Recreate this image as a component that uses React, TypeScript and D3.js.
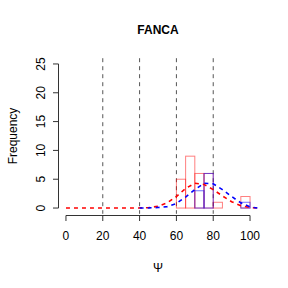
import React from 'react'
import * as d3 from 'd3'

// histogram bins (5-wide), counts
const binStarts = [0, 5, 10, 15, 20, 25, 30, 35, 40, 45, 50, 55, 60, 65, 70, 75, 80, 85, 90, 95]
const redCounts = [0, 0, 0, 0, 0, 0, 0, 0, 0, 0, 0, 0, 5, 9, 6, 6, 1, 0, 0, 2]
const blueCounts = [0, 0, 0, 0, 0, 0, 0, 0, 0, 0, 0, 0, 0, 0, 3, 6, 0, 0, 0, 1]

// dashed density curves (scaled to counts)
const redCurveX = [0, 10, 20, 30, 40, 45, 50, 55, 60, 65, 70, 75, 80, 85, 90, 95, 100, 104]
const redCurveY = [0, 0, 0, 0, 0.02, 0.08, 0.3, 0.9, 2.0, 3.4, 4.3, 4.1, 3.2, 2.1, 1.1, 0.4, 0.1, 0]
const blueCurveX = [40, 45, 50, 55, 60, 65, 70, 75, 80, 85, 90, 95, 100, 104]
const blueCurveY = [0, 0.02, 0.08, 0.25, 0.8, 1.9, 3.2, 4.3, 4.2, 3.2, 2.0, 0.9, 0.2, 0]

const vLines = [20, 40, 60, 80]
const xTicks = [0, 20, 40, 60, 80, 100]
const yTicks = [0, 5, 10, 15, 20, 25]

const App = () => {
  const W = 288, H = 288
  const x = d3.scaleLinear().domain([-4, 104]).range([58.6, 257.4])
  const y = d3.scaleLinear().domain([-1, 26]).range([213.8, 58.2])
  const font = 'Liberation Sans, Arial, sans-serif'
  const BW = 5

  const line = d3.line<[number, number]>().x(d => x(d[0])).y(d => y(d[1]))
  const redPts = redCurveX.map((v, i) => [v, redCurveY[i]] as [number, number])
  const bluePts = blueCurveX.map((v, i) => [v, blueCurveY[i]] as [number, number])

  return (
    <svg width={W} height={H} style={{ position: 'absolute', left: 0, top: 0, background: '#fff' }}
      fontFamily={font}>
      <text x={158} y={34} textAnchor="middle" fontWeight="bold" fontSize={12}>FANCA</text>

      {vLines.map(v => (
        <line key={v} x1={x(v)} x2={x(v)} y1={y(26)} y2={y(-1)} stroke="#555" strokeDasharray="4,4" />
      ))}

      {binStarts.map((b, i) => (
        <rect key={'r' + b} x={x(b)} y={y(redCounts[i])} width={x(b + BW) - x(b)}
          height={y(0) - y(redCounts[i])} fill="none" stroke="rgba(255,0,0,0.5)" />
      ))}
      {binStarts.map((b, i) => (
        <rect key={'b' + b} x={x(b)} y={y(blueCounts[i])} width={x(b + BW) - x(b)}
          height={y(0) - y(blueCounts[i])} fill="none" stroke="rgba(0,0,255,0.55)" />
      ))}

      <path d={line(redPts) || ''} fill="none" stroke="red" strokeWidth={1.6} strokeDasharray="4,4" />
      <path d={line(bluePts) || ''} fill="none" stroke="blue" strokeWidth={1.6} strokeDasharray="4,4" />

      {/* x axis */}
      <line x1={x(0)} x2={x(100)} y1={215.5} y2={215.5} stroke="#333" />
      {xTicks.map(t => (
        <g key={t}>
          <line x1={x(t)} x2={x(t)} y1={215.5} y2={221} stroke="#333" />
          <text x={x(t)} y={240} textAnchor="middle" fontSize={12}>{t}</text>
        </g>
      ))}
      <text x={158} y={272} textAnchor="middle" fontSize={12}>Ψ</text>

      {/* y axis */}
      <line x1={58.5} x2={58.5} y1={y(0)} y2={y(25)} stroke="#333" />
      {yTicks.map(t => (
        <g key={t}>
          <line x1={53} x2={58.5} y1={y(t)} y2={y(t)} stroke="#333" />
          <text transform={`translate(45,${y(t)}) rotate(-90)`} textAnchor="middle" fontSize={12}>{t}</text>
        </g>
      ))}
      <text transform={`translate(17,136) rotate(-90)`} textAnchor="middle" fontSize={12}>Frequency</text>
    </svg>
  )
}

export default App
